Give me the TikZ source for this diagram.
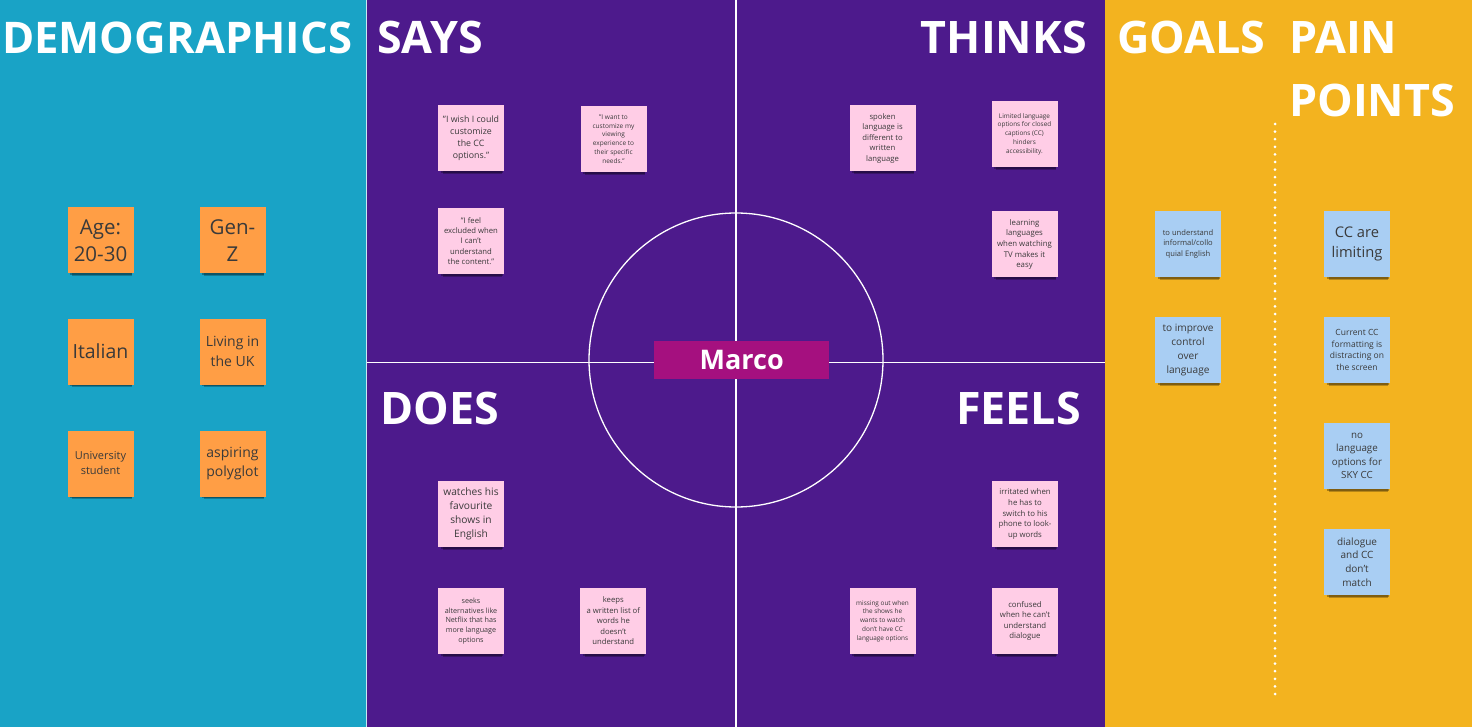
\documentclass[tikz,border=0pt]{standalone}
\usepackage{fontspec}
\setmainfont{Open Sans}
\usetikzlibrary{shadows}
\definecolor{demoBg}{HTML}{19A3C6}
\definecolor{purpleBg}{HTML}{4D1A8C}
\definecolor{yellowBg}{HTML}{F3B31F}
\definecolor{marcoC}{HTML}{A5107F}
\definecolor{orangeN}{HTML}{FF9E45}
\definecolor{pinkN}{HTML}{FFCDE6}
\definecolor{blueN}{HTML}{A9CEF3}
\definecolor{noteText}{HTML}{3A3A3A}
\newcommand\nfs[2]{\fontsize{#1}{#2}\selectfont}
\begin{document}
\begin{tikzpicture}[x=1pt,y=-1pt,
  heading/.style={text=white, font=\bfseries\nfs{44.8}{60}, inner sep=0pt},
  divider/.style={draw=white, line width=1.5pt},
  note/.style={minimum width=66pt, minimum height=66pt, inner sep=0pt, align=center, text=noteText,
    drop shadow={shadow xshift=1.5pt, shadow yshift=-6.5pt, shadow scale=0.9, opacity=0.25, fill=black},
    drop shadow={shadow xshift=1pt, shadow yshift=-4pt, shadow scale=0.94, opacity=0.3, fill=black}},
  demo/.style={note, fill=orangeN},
  pinknote/.style={note, fill=pinkN},
  bluenote/.style={note, fill=blueN}]
\useasboundingbox (0,0) rectangle (1472,727);
% panels
\fill[demoBg] (0,0) rectangle (367,727);
\fill[purpleBg] (367,0) rectangle (1105,727);
\fill[yellowBg] (1105,0) rectangle (1472,727);
% separators
\coordinate (stop) at (366.8,0); \coordinate (sbot) at (366.8,727);
\draw[white!75!demoBg, line width=1pt] (stop) -- (sbot);
\coordinate (vtop) at (736,0); \coordinate (vbot) at (736,727);
\coordinate (hl) at (367,362.5); \coordinate (hr) at (1105,362.5);
\draw[divider] (vtop) -- (vbot);
\draw[divider] (hl) -- (hr);
\node[circle, draw=white, line width=1.3pt, minimum size=294pt, inner sep=0pt] (ring) at (736,360) {};
\node[fill=marcoC, minimum width=175pt, minimum height=38pt, inner sep=0pt, text=white, font=\bfseries\nfs{27}{33}] (marco) at (741.7,360.2) {Marco};
% dotted line
\coordinate (dtop) at (1275,124); \coordinate (dbot) at (1275,694);
\draw[white, line width=3pt, line cap=round, dash pattern=on 0pt off 7.6pt] (dtop) -- (dbot);
% headings
\node[heading, font=\bfseries\nfs{43.6}{60}, anchor=base west] (hdemo) at (2,53.5) {DEMOGRAPHICS};
\node[heading, anchor=base west] (hsays) at (377,53.5) {SAYS};
\node[heading, anchor=base east] (hthinks) at (1087,53.5) {THINKS};
\node[heading, anchor=base west] (hdoes) at (380,424) {DOES};
\node[heading, anchor=base east] (hfeels) at (1081,424) {FEELS};
\node[heading, anchor=base west] (hgoals) at (1117,53.5) {GOALS};
\node[heading, anchor=base west] (hpain) at (1289,53.5) {PAIN};
\node[heading, anchor=base west] (hpoints) at (1289,116.5) {POINTS};
% demographics
\node[demo, font=\nfs{20.5}{27}] (age) at (100.5,240.5) {Age:\\20-30};
\node[demo, font=\nfs{20.5}{27}] (genz) at (232.5,240.5) {Gen-\\Z};
\node[demo, font=\nfs{19.5}{26}] (italian) at (100.5,351.5) {Italian};
\node[demo, font=\nfs{14}{19.5}] (living) at (232.5,351.5) {Living in\\the UK};
\node[demo, font=\nfs{11}{15}] (uni) at (100.5,463.5) {University\\student};
\node[demo, font=\nfs{14}{19.5}] (poly) at (232.5,463.5) {aspiring\\polyglot};
% says
\node[pinknote, font=\nfs{8.8}{12.1}] (s1) at (471,138.5) {"I wish I could\\customize\\the CC\\options."};
\node[pinknote, font=\nfs{6.5}{8.8}] (s2) at (613.5,139) {"I want to\\customize my\\viewing\\experience to\\their specific\\needs."};
\node[pinknote, font=\nfs{7.7}{10.4}] (s3) at (471,241) {"I feel\\excluded when\\I can't\\understand\\the content."};
% thinks
\node[pinknote, font=\nfs{7.7}{10.5}] (t1) at (882.5,138.5) {spoken\\language is\\different to\\written\\language};
\node[pinknote, font=\nfs{6.4}{8.7}] (t2) at (1024.5,134) {Limited language\\options for closed\\captions (CC)\\hinders\\accessibility.};
\node[pinknote, font=\nfs{7.8}{10.7}] (t3) at (1024.5,244.5) {learning\\languages\\when watching\\TV makes it\\easy};
% does
\node[pinknote, font=\nfs{10.2}{13.9}] (d1) at (471,514) {watches his\\favourite\\shows in\\English};
\node[pinknote, font=\nfs{7.2}{9.8}] (d2) at (471,621) {seeks\\alternatives like\\Netflix that has\\more language\\options};
\node[pinknote, font=\nfs{7.7}{10.5}] (d3) at (613.3,621) {keeps\\a written list of\\words he\\doesn't\\understand};
% feels
\node[pinknote, font=\nfs{7.8}{10.7}] (f1) at (1025,514) {irritated when\\he has to\\switch to his\\phone to look-\\up words};
\node[pinknote, font=\nfs{6.4}{8.7}] (f2) at (882.5,621) {missing out when\\the shows he\\wants to watch\\don't have CC\\language options};
\node[pinknote, font=\nfs{7.8}{10.6}] (f3) at (1025,621) {confused\\when he can't\\understand\\dialogue};
% goals
\node[bluenote, font=\nfs{7.6}{10.3}] (g1) at (1188,244) {to understand\\informal/collo\\quial English};
\node[bluenote, font=\nfs{10.1}{13.8}] (g2) at (1188,350) {to improve\\control\\over\\language};
% pain points
\node[bluenote, font=\nfs{14.7}{20}] (p1) at (1357,244) {CC are\\limiting};
\node[bluenote, font=\nfs{8.5}{11.6}] (p2) at (1357,350) {Current CC\\formatting is\\distracting on\\the screen};
\node[bluenote, font=\nfs{9.8}{13.3}] (p3) at (1357,456) {no\\language\\options for\\SKY CC};
\node[bluenote, font=\nfs{10}{13.7}] (p4) at (1357,562) {dialogue\\and CC\\don't\\match};
\end{tikzpicture}
\end{document}
